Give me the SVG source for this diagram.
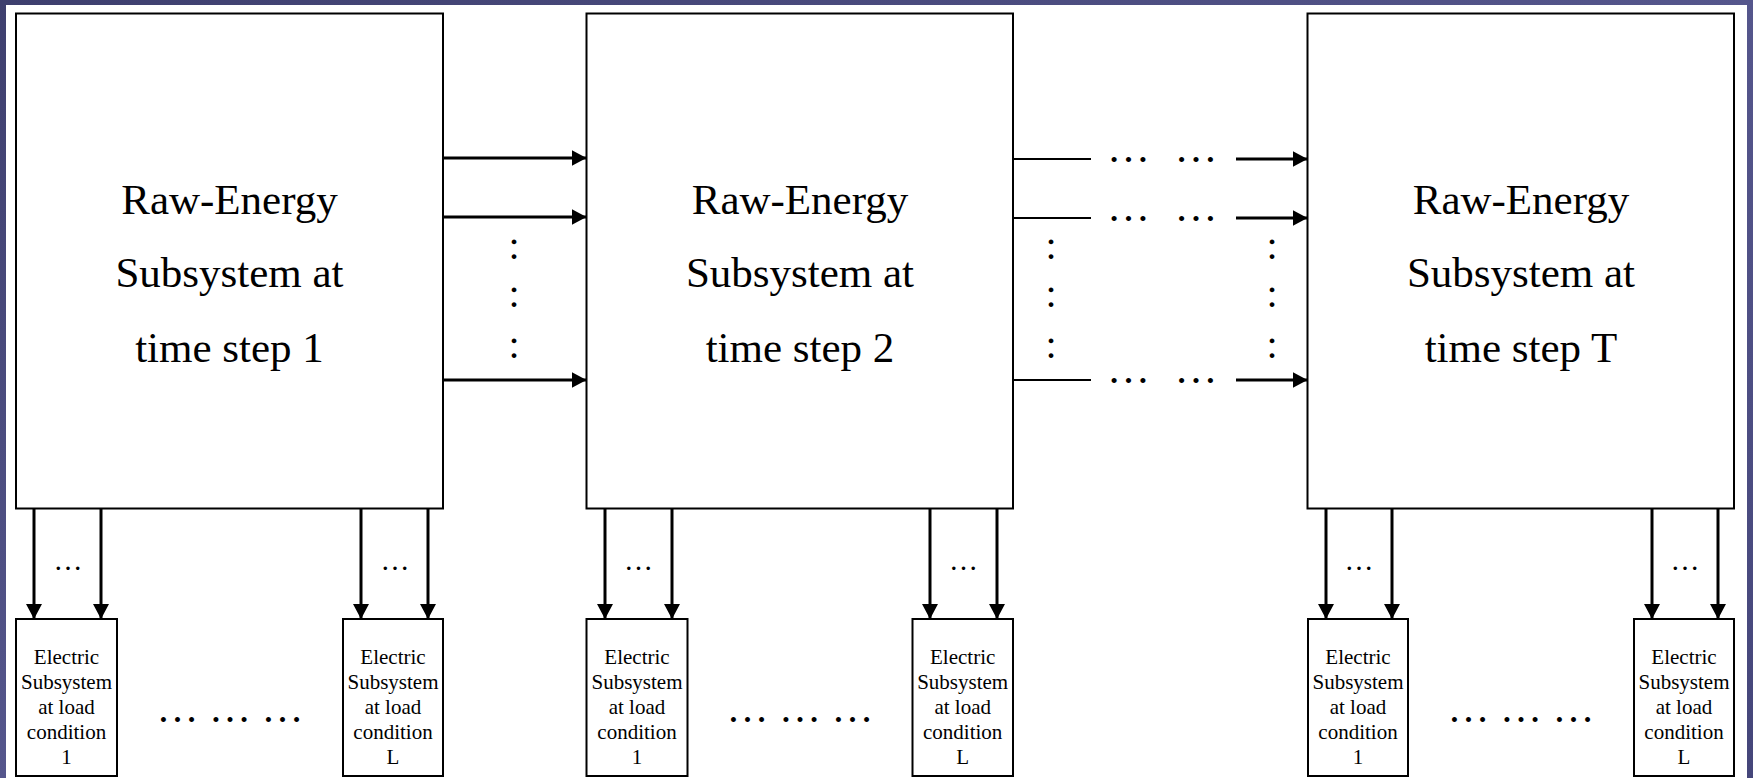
<svg xmlns="http://www.w3.org/2000/svg" width="1753" height="778" viewBox="0 0 1753 778">
<defs>
<linearGradient id="bg" x1="0" y1="0" x2="1" y2="1">
<stop offset="0" stop-color="#3e3f6e"/>
<stop offset="0.5" stop-color="#55568c"/>
<stop offset="1" stop-color="#45467a"/>
</linearGradient>
<marker id="ah" markerUnits="userSpaceOnUse" markerWidth="16" markerHeight="17" viewBox="0 0 16 17" refX="15" refY="8.5" orient="auto">
<path d="M0,0.5 L15,8.5 L0,16.5 z" fill="#000"/>
</marker>
<style>
.box{fill:#fff;stroke:#000;stroke-width:2}
.big{font-family:"Liberation Serif","Times New Roman",serif;font-size:43px;fill:#000;text-anchor:middle}
.small{font-family:"Liberation Serif","Times New Roman",serif;font-size:21px;fill:#000;text-anchor:middle}
.dots{font-family:"Liberation Serif","Times New Roman",serif;fill:#000;text-anchor:middle}
.arr{stroke:#000;stroke-width:3;fill:none;marker-end:url(#ah)}
.thin{stroke:#000;stroke-width:2;fill:none}
</style>
</defs>
<rect x="0" y="0" width="1753" height="778" fill="url(#bg)"/>
<rect x="6" y="5" width="1741" height="773" fill="#fff"/>

<g id="raw1">
<rect class="box" x="16" y="13.5" width="427" height="495"/>
<text class="big" x="229.5" y="214">Raw-Energy</text>
<text class="big" x="229.5" y="287">Subsystem at</text>
<text class="big" x="229.5" y="362">time step 1</text>
</g>
<g id="raw2">
<rect class="box" x="586.5" y="13.5" width="426.5" height="495"/>
<text class="big" x="800" y="214">Raw-Energy</text>
<text class="big" x="800" y="287">Subsystem at</text>
<text class="big" x="800" y="362">time step 2</text>
</g>
<g id="rawT">
<rect class="box" x="1307.5" y="13.5" width="426.5" height="495"/>
<text class="big" x="1521" y="214">Raw-Energy</text>
<text class="big" x="1521" y="287">Subsystem at</text>
<text class="big" x="1521" y="362">time step T</text>
</g>

<g id="e1_1">
<rect class="box" x="16" y="619" width="101" height="157"/>
<text class="small" x="66.5" y="664">Electric</text>
<text class="small" x="66.5" y="689">Subsystem</text>
<text class="small" x="66.5" y="714">at load</text>
<text class="small" x="66.5" y="739">condition</text>
<text class="small" x="66.5" y="764">1</text>
</g>
<g id="e1_L">
<rect class="box" x="343" y="619" width="100" height="157"/>
<text class="small" x="393" y="664">Electric</text>
<text class="small" x="393" y="689">Subsystem</text>
<text class="small" x="393" y="714">at load</text>
<text class="small" x="393" y="739">condition</text>
<text class="small" x="393" y="764">L</text>
</g>
<g id="e2_1">
<rect class="box" x="586.5" y="619" width="101" height="157"/>
<text class="small" x="637" y="664">Electric</text>
<text class="small" x="637" y="689">Subsystem</text>
<text class="small" x="637" y="714">at load</text>
<text class="small" x="637" y="739">condition</text>
<text class="small" x="637" y="764">1</text>
</g>
<g id="e2_L">
<rect class="box" x="912.5" y="619" width="100.5" height="157"/>
<text class="small" x="962.7" y="664">Electric</text>
<text class="small" x="962.7" y="689">Subsystem</text>
<text class="small" x="962.7" y="714">at load</text>
<text class="small" x="962.7" y="739">condition</text>
<text class="small" x="962.7" y="764">L</text>
</g>
<g id="eT_1">
<rect class="box" x="1308" y="619" width="100" height="157"/>
<text class="small" x="1358" y="664">Electric</text>
<text class="small" x="1358" y="689">Subsystem</text>
<text class="small" x="1358" y="714">at load</text>
<text class="small" x="1358" y="739">condition</text>
<text class="small" x="1358" y="764">1</text>
</g>
<g id="eT_L">
<rect class="box" x="1634" y="619" width="100" height="157"/>
<text class="small" x="1684" y="664">Electric</text>
<text class="small" x="1684" y="689">Subsystem</text>
<text class="small" x="1684" y="714">at load</text>
<text class="small" x="1684" y="739">condition</text>
<text class="small" x="1684" y="764">L</text>
</g>

<g id="connectors">
<line class="arr" x1="443" y1="158" x2="586.5" y2="158"/>
<line class="arr" x1="443" y1="217" x2="586.5" y2="217"/>
<line class="arr" x1="443" y1="380" x2="586.5" y2="380"/>

<line class="thin" x1="1013" y1="159" x2="1091" y2="159"/>
<line class="thin" x1="1013" y1="218" x2="1091" y2="218"/>
<line class="thin" x1="1013" y1="380" x2="1091" y2="380"/>
<line class="arr" x1="1236" y1="159" x2="1307.5" y2="159"/>
<line class="arr" x1="1236" y1="218" x2="1307.5" y2="218"/>
<line class="arr" x1="1236" y1="380" x2="1307.5" y2="380"/>

<line class="arr" x1="34" y1="508.5" x2="34" y2="619"/>
<line class="arr" x1="101" y1="508.5" x2="101" y2="619"/>
<line class="arr" x1="361" y1="508.5" x2="361" y2="619"/>
<line class="arr" x1="428" y1="508.5" x2="428" y2="619"/>
<line class="arr" x1="605" y1="508.5" x2="605" y2="619"/>
<line class="arr" x1="672" y1="508.5" x2="672" y2="619"/>
<line class="arr" x1="930" y1="508.5" x2="930" y2="619"/>
<line class="arr" x1="997" y1="508.5" x2="997" y2="619"/>
<line class="arr" x1="1326" y1="508.5" x2="1326" y2="619"/>
<line class="arr" x1="1392" y1="508.5" x2="1392" y2="619"/>
<line class="arr" x1="1652" y1="508.5" x2="1652" y2="619"/>
<line class="arr" x1="1718" y1="508.5" x2="1718" y2="619"/>
</g>

<g id="ellipses">
<text class="dots" font-size="29" x="68" y="570">…</text>
<text class="dots" font-size="29" x="395" y="570">…</text>
<text class="dots" font-size="29" x="638.5" y="570">…</text>
<text class="dots" font-size="29" x="963.5" y="570">…</text>
<text class="dots" font-size="29" x="1359" y="570">…</text>
<text class="dots" font-size="29" x="1685" y="570">…</text>

<text class="dots" font-size="42" x="230" y="722">… … …</text>
<text class="dots" font-size="42" x="800" y="722">… … …</text>
<text class="dots" font-size="42" x="1521" y="722">… … …</text>

<text class="dots" font-size="43" x="1128.5" y="162">…</text>
<text class="dots" font-size="43" x="1196" y="162">…</text>
<text class="dots" font-size="43" x="1128.5" y="221">…</text>
<text class="dots" font-size="43" x="1196" y="221">…</text>
<text class="dots" font-size="43" x="1128.5" y="383">…</text>
<text class="dots" font-size="43" x="1196" y="383">…</text>

<text class="dots" font-size="40" x="514" y="259">:</text>
<text class="dots" font-size="40" x="514" y="307">:</text>
<text class="dots" font-size="40" x="514" y="358">:</text>
<text class="dots" font-size="40" x="1051" y="259">:</text>
<text class="dots" font-size="40" x="1051" y="307">:</text>
<text class="dots" font-size="40" x="1051" y="358">:</text>
<text class="dots" font-size="40" x="1272" y="259">:</text>
<text class="dots" font-size="40" x="1272" y="307">:</text>
<text class="dots" font-size="40" x="1272" y="358">:</text>
</g>
</svg>
